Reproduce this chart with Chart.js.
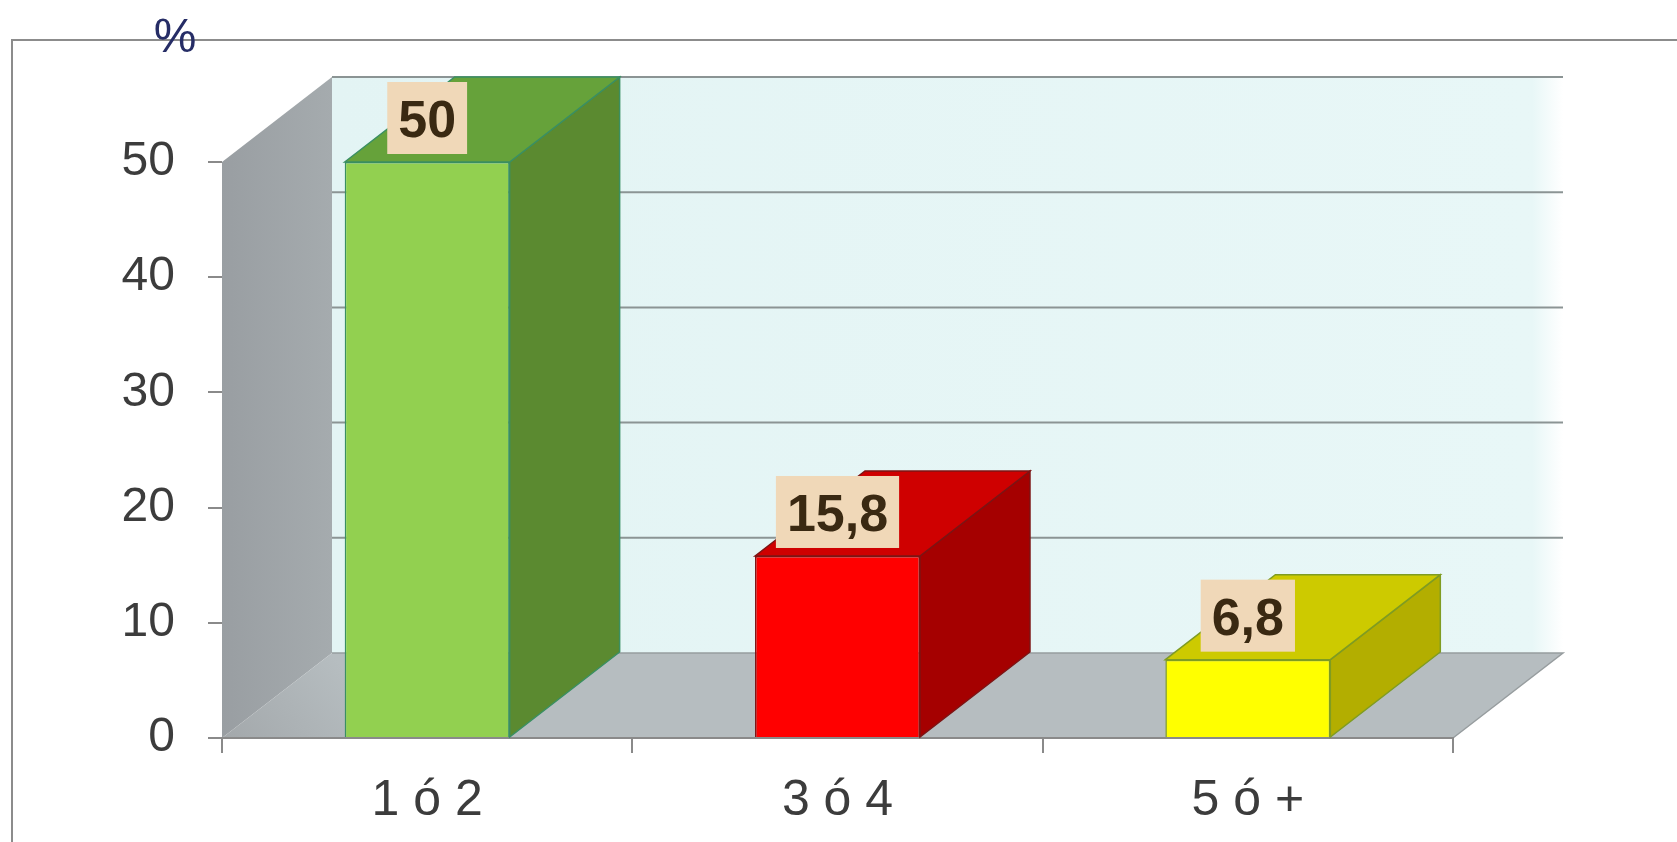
<!DOCTYPE html>
<html lang="es">
<head>
<meta charset="UTF-8" />
<title>Porcentaje</title>
<script src="https://cdn.jsdelivr.net/npm/chart.js"></script>
<style>
  html, body { margin: 0; padding: 0; background: #fff; }
  canvas { display: block; }
</style>
</head>
<body>
<canvas id="grafico" width="1677" height="842"></canvas>
<script>
  const categorias = ['1 ó 2', '3 ó 4', '5 ó +'];
  const porcentajes = [50, 15.8, 6.8];
  const ticksY = [0, 10, 20, 30, 40, 50];

  const colorFrente = ['#92d050', '#ff0000', '#ffff00'];
  const colorArriba = ['#66a23a', '#cf0000', '#cdca00'];
  const colorLado = ['#5b8a30', '#a50000', '#b3ae00'];
  const colorBorde = ['#3a8f62', '#7c1414', '#7f9c22'];

  // profundidad del efecto 3D
  const PX = 110, PY = -85;
  const fuente = "'Liberation Sans', Arial, sans-serif";

  function poligono(ctx, pts, relleno, borde) {
    ctx.beginPath();
    ctx.moveTo(pts[0][0], pts[0][1]);
    for (let i = 1; i < pts.length; i++) ctx.lineTo(pts[i][0], pts[i][1]);
    ctx.closePath();
    ctx.fillStyle = relleno;
    ctx.fill();
    if (borde) {
      ctx.strokeStyle = borde;
      ctx.lineWidth = 1.5;
      ctx.stroke();
    }
  }

  // paredes, piso y marco
  const fondo3d = {
    id: 'fondo3d',
    beforeDraw(chart) {
      const ctx = chart.ctx;
      const y = chart.scales.y;
      const area = chart.chartArea;
      const l = area.left, r = area.right, b = area.bottom;
      const t = y.getPixelForValue(ticksY[ticksY.length - 1]);
      ctx.save();

      ctx.strokeStyle = '#8c8c8c';
      ctx.lineWidth = 2;
      ctx.beginPath();
      ctx.moveTo(12, chart.height + 5);
      ctx.lineTo(12, 40);
      ctx.lineTo(chart.width + 5, 40);
      ctx.stroke();

      const gp = ctx.createLinearGradient(l + PX, 0, r + PX, 0);
      gp.addColorStop(0, '#e3f4f4');
      gp.addColorStop(0.975, '#e8f7f7');
      gp.addColorStop(1, '#ffffff');
      ctx.fillStyle = gp;
      ctx.fillRect(l + PX, t + PY, r - l, b - t);

      ctx.strokeStyle = '#8b9494';
      ctx.lineWidth = 2;
      ticksY.slice(1).forEach(v => {
        const py = y.getPixelForValue(v) + PY;
        ctx.beginPath();
        ctx.moveTo(l + PX, py);
        ctx.lineTo(r + PX, py);
        ctx.stroke();
      });

      const gi = ctx.createLinearGradient(l, 0, l + PX, 0);
      gi.addColorStop(0, '#999ea2');
      gi.addColorStop(1, '#a5abae');
      poligono(ctx, [[l, t], [l + PX, t + PY], [l + PX, b + PY], [l, b]], gi);

      const gs = ctx.createLinearGradient(l, b, l + PX, b + PY);
      gs.addColorStop(0, '#a3a8ab');
      gs.addColorStop(1, '#b6bdc0');
      poligono(ctx, [[l, b], [r, b], [r + PX, b + PY], [l + PX, b + PY]], gs);

      ctx.strokeStyle = '#979d9f';
      ctx.lineWidth = 1.5;
      ctx.beginPath();
      ctx.moveTo(l + PX, b + PY);
      ctx.lineTo(r + PX, b + PY);
      ctx.lineTo(r, b);
      ctx.stroke();
      ctx.restore();
    },
    afterDraw(chart) {
      const ctx = chart.ctx;
      ctx.save();
      ctx.font = '48px ' + fuente;
      ctx.fillStyle = '#262d66';
      ctx.textAlign = 'center';
      ctx.textBaseline = 'middle';
      ctx.fillText('%', 175, 39);
      ctx.restore();
    }
  };

  // caras superior y lateral de cada barra, y la etiqueta del valor
  const barras3d = {
    id: 'barras3d',
    afterDatasetsDraw(chart) {
      const ctx = chart.ctx;
      const meta = chart.getDatasetMeta(0);
      ctx.save();
      meta.data.forEach((bar, i) => {
        const p = bar.getProps(['x', 'y', 'base', 'width'], true);
        const l = p.x - p.width / 2, r = p.x + p.width / 2;
        poligono(ctx, [[r, p.y], [r + PX, p.y + PY], [r + PX, p.base + PY], [r, p.base]], colorLado[i], colorBorde[i]);
        poligono(ctx, [[l, p.y], [l + PX, p.y + PY], [r + PX, p.y + PY], [r, p.y]], colorArriba[i], colorBorde[i]);
      });
      ctx.font = 'bold 52px ' + fuente;
      ctx.textAlign = 'center';
      ctx.textBaseline = 'alphabetic';
      meta.data.forEach((bar, i) => {
        const p = bar.getProps(['x', 'y'], true);
        const txt = String(porcentajes[i]).replace('.', ',');
        const w = ctx.measureText(txt).width + 22;
        const h = 72;
        const abajo = p.y - 8;
        ctx.fillStyle = '#f0d8b8';
        ctx.fillRect(p.x - w / 2, abajo - h, w, h);
        ctx.fillStyle = '#3a2912';
        ctx.fillText(txt, p.x, abajo - h / 2 + 19);
      });
      ctx.restore();
    }
  };

  new Chart(document.getElementById('grafico'), {
    type: 'bar',
    data: {
      labels: categorias,
      datasets: [{
        data: porcentajes,
        backgroundColor: colorFrente,
        borderColor: colorBorde,
        borderWidth: 1.5,
        categoryPercentage: 1,
        barPercentage: 0.402
      }]
    },
    options: {
      responsive: false,
      animation: false,
      layout: { padding: { top: 162, right: 224, left: 0, bottom: 0 } },
      plugins: {
        legend: { display: false },
        tooltip: { enabled: false }
      },
      scales: {
        x: {
          grid: { drawOnChartArea: false, offset: true, tickLength: 15, color: '#8a8a8a', lineWidth: 2 },
          border: { display: true, color: '#8a8a8a', width: 2 },
          ticks: { padding: 18, color: '#3c3c3c', font: { size: 50, family: fuente } },
          afterFit(s) { s.height = 104; }
        },
        y: {
          min: ticksY[0],
          max: ticksY[ticksY.length - 1],
          afterBuildTicks(s) { s.ticks = ticksY.map(v => ({ value: v })); },
          grid: { drawOnChartArea: false, tickLength: 14, color: '#8a8a8a', lineWidth: 2 },
          border: { display: false },
          ticks: { padding: 33, color: '#3c3c3c', font: { size: 48, family: fuente } },
          afterFit(s) { s.width = 222; }
        }
      }
    },
    plugins: [fondo3d, barras3d]
  });
</script>
</body>
</html>
